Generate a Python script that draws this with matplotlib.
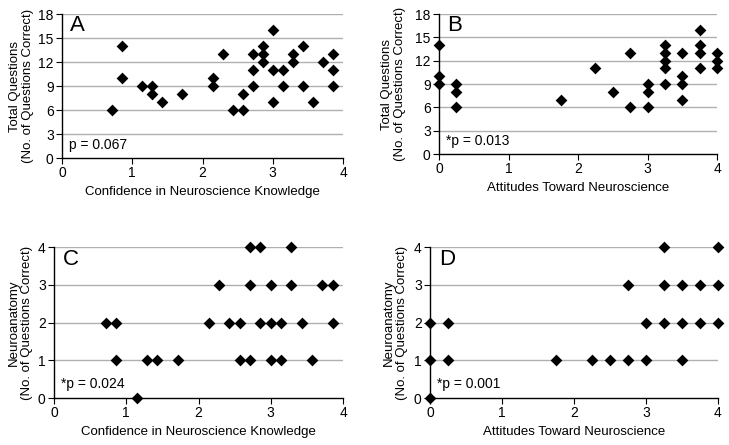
import matplotlib.pyplot as plt

plt.rcParams['font.family'] = ['Liberation Sans', 'DejaVu Sans']

# ---------------- data ---------------- #
# Panel A: confidence vs total questions
conf_a = [0.714, 0.857, 0.857, 1.143, 1.286, 1.286, 1.429, 1.714, 2.143, 2.143,
          2.286, 2.429, 2.571, 2.571, 2.714, 2.714, 2.714, 2.857, 2.857, 2.857,
          3.0, 3.0, 3.0, 3.143, 3.143, 3.286, 3.286, 3.429, 3.429, 3.571,
          3.714, 3.857, 3.857, 3.857]
total_a = [6, 14, 10, 9, 9, 8, 7, 8, 10, 9,
           13, 6, 8, 6, 13, 11, 9, 14, 13, 12,
           16, 11, 7, 11, 9, 13, 12, 14, 9, 7,
           12, 13, 11, 9]

# Panel B: attitudes vs total questions
att_b = [0, 0, 0, 0.25, 0.25, 0.25, 1.75, 2.25, 2.5, 2.75, 2.75,
         3.0, 3.0, 3.0, 3.25, 3.25, 3.25, 3.25, 3.25,
         3.5, 3.5, 3.5, 3.5, 3.75, 3.75, 3.75, 3.75, 4, 4, 4]
total_b = [14, 10, 9, 9, 8, 6, 7, 11, 8, 13, 6,
           9, 8, 6, 14, 13, 12, 11, 9,
           13, 10, 9, 7, 16, 14, 13, 11, 13, 12, 11]

# Panel C: confidence vs neuroanatomy
conf_c = [2.714, 2.857, 3.286,
          2.286, 2.714, 3.0, 3.286, 3.714, 3.857,
          0.714, 0.857, 2.143, 2.429, 2.571, 2.857, 3.0, 3.143, 3.429, 3.857,
          0.857, 1.286, 1.429, 1.714, 2.571, 2.714, 3.0, 3.143, 3.571,
          1.143]
neuro_c = [4, 4, 4,
           3, 3, 3, 3, 3, 3,
           2, 2, 2, 2, 2, 2, 2, 2, 2, 2,
           1, 1, 1, 1, 1, 1, 1, 1, 1,
           0]

# Panel D: attitudes vs neuroanatomy
att_d = [3.25, 4,
         2.75, 3.25, 3.5, 3.75, 4,
         0, 0.25, 3.0, 3.25, 3.5, 3.75, 4,
         0, 0.25, 1.75, 2.25, 2.5, 2.75, 3.0, 3.5,
         0]
neuro_d = [4, 4,
           3, 3, 3, 3, 3,
           2, 2, 2, 2, 2, 2, 2,
           1, 1, 1, 1, 1, 1, 1, 1,
           0]

xlab_conf = "Confidence in Neuroscience Knowledge"
xlab_att = "Attitudes Toward Neuroscience"
ylab_total = "Total Questions\n(No. of Questions Correct)"
ylab_neuro = "Neuroanatomy\n(No. of Questions Correct)"

W, H = 729, 445
fig = plt.figure(figsize=(W / 100, H / 100), dpi=100)


def make_ax(l, t, r, b):
    ax = fig.add_axes([l / W, 1 - b / H, (r - l) / W, (b - t) / H])
    return ax, l, r


def style(axinfo, x, y, yticks, letter, ptxt, xlab, ylab, ylab_x):
    ax, l, r = axinfo
    ymax = yticks[-1]
    ax.set_xlim(0, 4)
    ax.set_ylim(0, ymax)
    ax.set_yticks(yticks)
    ax.set_xticks([0, 1, 2, 3, 4])
    for v in yticks[1:]:
        ax.axhline(v, color='#b0b0b0', lw=1, zorder=1)
    ax.scatter(x, y, marker='D', s=36, color='black', zorder=3, clip_on=False,
               linewidths=0)
    for s in ['top', 'right']:
        ax.spines[s].set_visible(False)
    for s in ['left', 'bottom']:
        ax.spines[s].set_color('black')
        ax.spines[s].set_linewidth(1)
    ax.tick_params(direction='out', length=4, width=0.8, labelsize=10,
                   colors='black', pad=2)
    ax.set_xlabel(xlab, fontsize=9.5, labelpad=4)
    ax.set_ylabel(ylab, fontsize=9.5, linespacing=1.1)
    # right edge of the rotated label sits at ylab_x (pixels)
    ax.yaxis.set_label_coords((ylab_x - l) / (r - l), 0.5)
    ax.text(0.03, 0.92, letter, transform=ax.transAxes, fontsize=16,
            va='center', ha='left')
    ax.text(0.025, 0.09, ptxt, transform=ax.transAxes, fontsize=10,
            va='center', ha='left')


style(make_ax(62, 14, 343, 158), conf_a, total_a, [0, 3, 6, 9, 12, 15, 18],
      "A", "p = 0.067", xlab_conf, ylab_total, 34)

style(make_ax(439, 14, 717, 154), att_b, total_b, [0, 3, 6, 9, 12, 15, 18],
      "B", "*p = 0.013", xlab_att, ylab_total, 406)

style(make_ax(54, 247, 343, 398), conf_c, neuro_c, [0, 1, 2, 3, 4],
      "C", "*p = 0.024", xlab_conf, ylab_neuro, 33)

style(make_ax(430, 247, 718, 398), att_d, neuro_d, [0, 1, 2, 3, 4],
      "D", "*p = 0.001", xlab_att, ylab_neuro, 408)

fig.savefig("out.png", dpi=100)
